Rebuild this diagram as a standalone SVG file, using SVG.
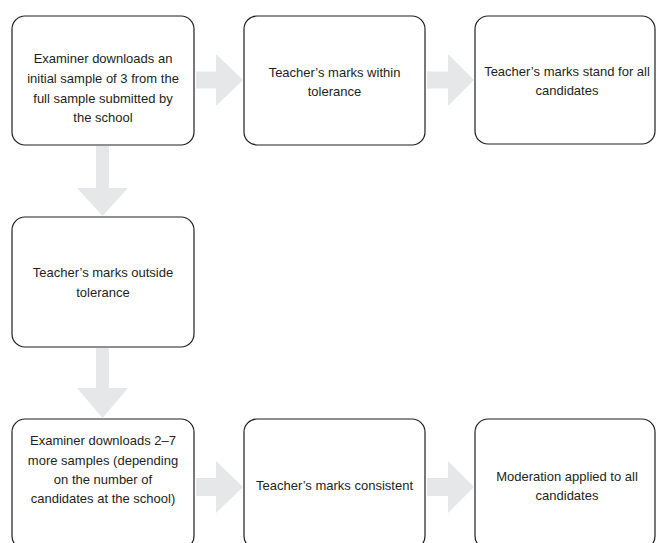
<svg xmlns="http://www.w3.org/2000/svg" width="657" height="543" viewBox="0 0 657 543">
<style>
.box{fill:#ffffff;stroke:#231f20;stroke-width:1.2}
.arr{fill:#e6e7e8;stroke:none}
text{font-family:"Liberation Sans",Arial,sans-serif;font-size:13px;fill:#231f20;text-anchor:middle}
</style>
<rect width="657" height="543" fill="#ffffff"/>
<g id="connectors">
<polygon class="arr" points="196,71.5 216,71.5 216,54 243,80 216,106 216,88.5 196,88.5"/>
<polygon class="arr" points="427,71.5 448,71.5 448,54 474,80 448,106 448,88.5 427,88.5"/>
<polygon class="arr" points="96,146 109,146 109,188 128,188 102.5,216 77,188 96,188"/>
<polygon class="arr" points="96,348 109,348 109,388 128,388 102.5,418 77,388 96,388"/>
<polygon class="arr" points="196,478 216,478 216,461 243,487 216,513 216,496 196,496"/>
<polygon class="arr" points="427,478 448,478 448,461 474,487 448,513 448,496 427,496"/>
</g>
<g id="n1">
<rect class="box" x="12" y="16" width="182" height="129" rx="13"/>
<text x="103" y="63">Examiner downloads an</text>
<text x="103" y="83">initial sample of 3 from the</text>
<text x="103" y="103">full sample submitted by</text>
<text x="103" y="122">the school</text>
</g>
<g id="n2">
<rect class="box" x="244" y="16" width="181" height="129" rx="13"/>
<text x="334.5" y="77">Teacher’s marks within</text>
<text x="334.5" y="96">tolerance</text>
</g>
<g id="n3">
<rect class="box" x="475" y="16" width="180" height="128" rx="13"/>
<text x="567" y="76">Teacher’s marks stand for all</text>
<text x="567" y="95">candidates</text>
</g>
<g id="n4">
<rect class="box" x="12" y="217" width="182" height="130" rx="13"/>
<text x="103" y="277">Teacher’s marks outside</text>
<text x="103" y="297">tolerance</text>
</g>
<g id="n5">
<rect class="box" x="12" y="419" width="182" height="130" rx="13"/>
<text x="103" y="445">Examiner downloads 2–7</text>
<text x="103" y="464.5">more samples (depending</text>
<text x="103" y="484">on the number of</text>
<text x="103" y="503">candidates at the school)</text>
</g>
<g id="n6">
<rect class="box" x="244" y="419" width="181" height="130" rx="13"/>
<text x="334.5" y="490">Teacher’s marks consistent</text>
</g>
<g id="n7">
<rect class="box" x="475" y="419" width="180" height="130" rx="13"/>
<text x="567" y="481">Moderation applied to all</text>
<text x="567" y="500">candidates</text>
</g>
</svg>
